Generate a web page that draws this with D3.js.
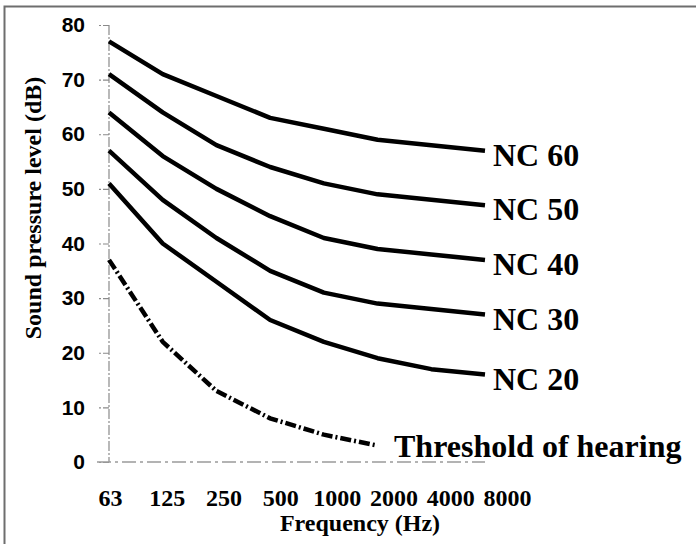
<!DOCTYPE html>
<html>
<head>
<meta charset="utf-8">
<script src="https://cdn.jsdelivr.net/npm/d3@7"></script>
<style>
  body { margin: 0; background: #fff; }
  svg { display: block; }
</style>
</head>
<body>
<script>
// octave band centre frequencies
var freqs = ["63", "125", "250", "500", "1000", "2000", "4000", "8000"];
var yTicks = [0, 10, 20, 30, 40, 50, 60, 70, 80];

// NC curves (dB)
var nc60 = [77, 71, 67, 63, 61, 59, 58, 57];
var nc50 = [71, 64, 58, 54, 51, 49, 48, 47];
var nc40 = [64, 56, 50, 45, 41, 39, 38, 37];
var nc30 = [57, 48, 41, 35, 31, 29, 28, 27];
var nc20 = [51, 40, 33, 26, 22, 19, 17, 16];
var ncNames = ["NC 60", "NC 50", "NC 40", "NC 30", "NC 20"];

// threshold of hearing, 63 Hz .. 2000 Hz
var threshold = [37, 22, 13, 8, 5, 3];
var thresholdName = "Threshold of hearing";

var width = 696, height = 544;

var svg = d3.select("body").append("svg")
    .attr("width", width)
    .attr("height", height);

// frame (cropped on right and bottom)
svg.append("rect")
    .attr("x", 4.5).attr("y", 6.5)
    .attr("width", 740).attr("height", 580)
    .attr("fill", "none")
    .attr("stroke", "#6e6e6e")
    .attr("stroke-width", 2);

var xScale = d3.scalePoint().domain(freqs).range([109, 485]);
var yScale = d3.scaleLinear().domain([0, 80]).range([462, 25]);

// tick labels sit a bit to the right of the band positions
var labelScale = d3.scalePoint().domain(freqs).range([110, 507]);

var serif = "'Liberation Serif', 'Times New Roman', serif";
var sans = "'Liberation Sans', Arial, sans-serif";

// y axis
var yAxis = d3.axisLeft(yScale)
    .tickValues(yTicks)
    .tickSize(12)
    .tickPadding(12);

var gy = svg.append("g")
    .attr("transform", "translate(109,0)")
    .call(yAxis);
gy.select(".domain")
    .attr("d", "M0," + yScale(80) + "V" + yScale(0))
    .attr("stroke", "#8a8a8a")
    .attr("stroke-width", 1.2)
    .attr("stroke-dasharray", "10,2,2,2");
gy.selectAll(".tick line")
    .attr("stroke", "#8a8a8a")
    .attr("stroke-width", 1.2)
    .attr("stroke-dasharray", "6,2,2,2");
gy.selectAll(".tick text")
    .attr("fill", "#000")
    .style("font-family", sans)
    .style("font-weight", "bold")
    .style("font-size", "21px");

// x axis baseline (dashed grey)
svg.append("line")
    .attr("x1", 97).attr("x2", xScale("8000"))
    .attr("y1", yScale(0)).attr("y2", yScale(0))
    .attr("stroke", "#9a9a9a")
    .attr("stroke-width", 1.5)
    .attr("stroke-dasharray", "14,4,3,4");

// x tick labels
var xAxis = d3.axisBottom(labelScale).tickSize(0).tickPadding(0);
var gx = svg.append("g")
    .attr("transform", "translate(0,489)")
    .call(xAxis);
gx.select(".domain").remove();
gx.selectAll(".tick text")
    .attr("fill", "#000")
    .style("font-family", serif)
    .style("font-weight", "bold")
    .style("font-size", "24px");

// axis titles
svg.append("text")
    .attr("x", 360).attr("y", 531)
    .attr("text-anchor", "middle")
    .style("font-family", serif)
    .style("font-weight", "bold")
    .style("font-size", "24px")
    .text("Frequency (Hz)");

svg.append("text")
    .attr("transform", "translate(41,208) rotate(-90)")
    .attr("text-anchor", "middle")
    .style("font-family", serif)
    .style("font-weight", "bold")
    .style("font-size", "24px")
    .text("Sound pressure level (dB)");

// curves
var line = d3.line()
    .x(function(d, i) { return xScale(freqs[i]); })
    .y(function(d) { return yScale(d); });

var curves = [nc60, nc50, nc40, nc30, nc20];

svg.selectAll(".nc")
    .data(curves)
    .enter()
    .append("path")
    .attr("class", "nc")
    .attr("d", line)
    .attr("fill", "none")
    .attr("stroke", "#000")
    .attr("stroke-width", 4.5)
    .attr("stroke-linejoin", "round");

svg.selectAll(".nclabel")
    .data(curves)
    .enter()
    .append("text")
    .attr("class", "nclabel")
    .attr("x", xScale("8000") + 8)
    .attr("y", function(d) { return yScale(d[d.length - 1]) + 15; })
    .style("font-family", serif)
    .style("font-weight", "bold")
    .style("font-size", "32px")
    .text(function(d, i) { return ncNames[i]; });

svg.append("path")
    .datum(threshold)
    .attr("d", line)
    .attr("fill", "none")
    .attr("stroke", "#000")
    .attr("stroke-width", 4.5)
    .attr("stroke-dasharray", "11,3,2,3");

svg.append("text")
    .attr("x", 394)
    .attr("y", yScale(0) - 5)
    .style("font-family", serif)
    .style("font-weight", "bold")
    .style("font-size", "32px")
    .text(thresholdName);
</script>
</body>
</html>
